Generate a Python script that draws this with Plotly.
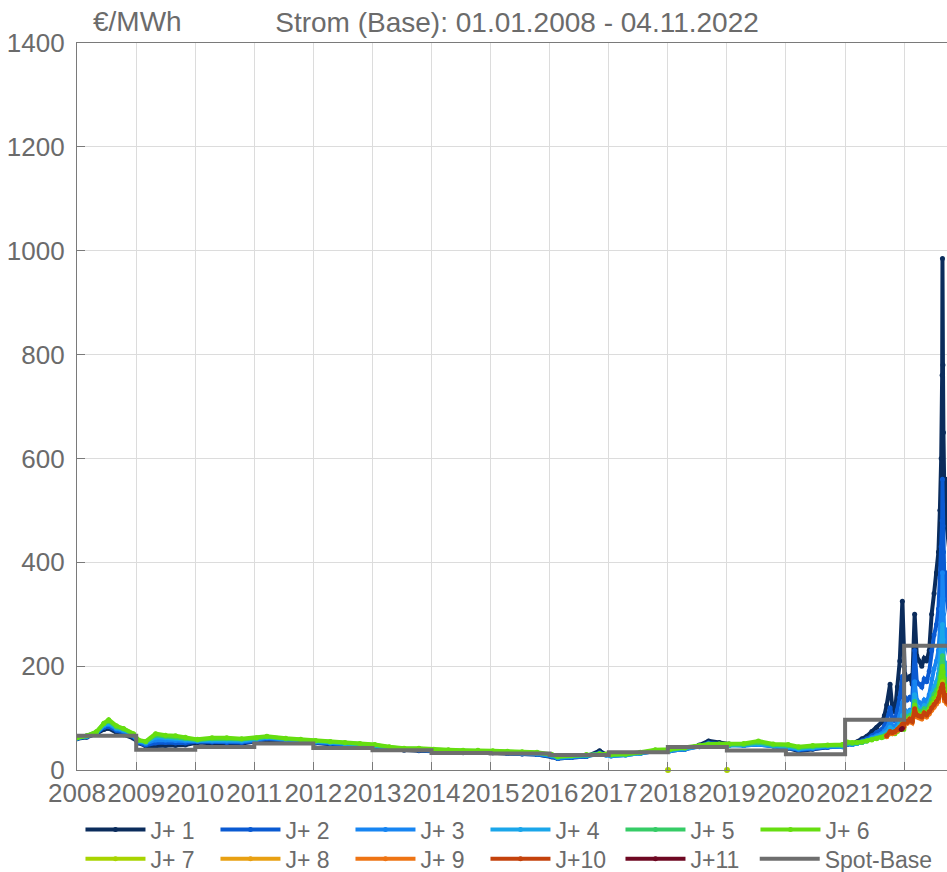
import plotly.graph_objects as go

# ---------------- data ----------------
dates_a = ["2008-01-02","2008-03-01","2008-05-01","2008-06-15","2008-07-15","2008-09-01","2008-10-15","2008-12-15",
           "2009-01-15","2009-03-01","2009-05-01","2009-07-01","2009-09-01","2009-11-01",
           "2010-01-15","2010-04-15","2010-07-15","2010-10-15",
           "2011-01-15","2011-03-20","2011-07-15","2011-10-15",
           "2012-01-15","2012-04-15","2012-07-15","2012-10-15",
           "2013-01-15","2013-04-15","2013-07-15","2013-10-15",
           "2014-01-15","2014-04-15","2014-07-15","2014-10-15",
           "2015-01-15","2015-04-15","2015-07-15","2015-10-15",
           "2016-01-15","2016-02-20","2016-05-15","2016-08-15","2016-11-05","2016-12-15",
           "2017-01-15","2017-04-15","2017-07-15","2017-10-15",
           "2018-01-15","2018-04-15","2018-07-15","2018-09-10","2018-11-15",
           "2019-01-15","2019-04-15","2019-07-15","2019-10-15",
           "2020-01-15","2020-03-20","2020-06-15","2020-09-15","2020-12-15"]

dates_b = ["2021-01-15","2021-02-15","2021-03-15","2021-04-15","2021-05-15","2021-06-15","2021-07-15","2021-08-15",
           "2021-09-01","2021-09-15","2021-10-06","2021-10-20","2021-11-05","2021-11-20","2021-12-05","2021-12-21","2021-12-30",
           "2022-01-05","2022-01-20","2022-02-05","2022-02-20","2022-03-07","2022-03-20","2022-04-05","2022-04-20",
           "2022-05-05","2022-05-20","2022-06-05","2022-06-20","2022-07-05","2022-07-20","2022-08-01","2022-08-10",
           "2022-08-18","2022-08-24","2022-08-26","2022-08-29","2022-09-01","2022-09-07","2022-09-14","2022-09-21",
           "2022-10-05","2022-10-20","2022-11-04"]

# long-dated products (J+7 .. J+10) start in September 2021
dates_c = dates_b[9:]

j1_a = [60,63,70,78,80,72,68,61, 52,46,46,47,47,48, 53,52,50,51, 54,58,56,54, 52,50,48,46, 44,40,38,37,
        36,34,33,34, 33,32,31,30, 25,22,24,26,37,30, 28,30,33,37, 37,40,48,56,53, 50,48,50,46, 42,36,40,44,46]
j2_a = [61,64,71,82,84,76,72,64, 53,48,52,53,52,52, 55,54,53,53, 56,60,57,55, 53,51,49,47, 45,41,39,38,
        37,35,34,34, 33,32,31,30, 26,22,24,26,33,29, 27,29,32,36, 37,40,46,52,50, 48,47,49,46, 43,38,41,44,45]
j3_a = [61,65,72,85,88,79,75,66, 55,51,58,58,57,56, 56,56,56,55, 58,62,58,56, 54,52,50,48, 46,42,40,39,
        37,36,35,35, 34,33,32,31, 27,23,25,27,31,29, 27,29,32,36, 37,40,45,50,48, 47,47,49,46, 44,40,42,45,45]
j4_a = [62,65,72,87,91,81,77,68, 56,53,63,62,61,59, 57,58,58,57, 60,63,59,57, 55,53,51,49, 47,43,40,40,
        38,37,36,36, 35,34,33,32, 28,24,26,28,31,29, 28,29,32,37, 38,41,45,49,48, 47,48,50,47, 45,41,43,46,46]
j5_a = [62,66,73,89,94,83,79,69, 57,54,67,65,64,61, 58,60,60,59, 61,64,60,58, 56,54,52,50, 48,44,41,41,
        39,38,37,37, 36,35,34,33, 29,25,27,29,31,30, 29,30,33,38, 39,42,46,49,49, 48,49,53,48, 47,43,45,47,47]
j6_a = [62,66,74,90,97,85,80,70, 58,55,70,67,66,63, 59,62,62,60, 62,65,61,59, 57,55,53,51, 49,45,42,42,
        40,39,38,38, 37,36,35,34, 30,26,28,30,32,31, 30,31,34,39, 40,43,47,50,50, 50,51,56,50, 49,45,47,48,49]

j1_b = [50,50,54,60,65,74,82,92,105,125,165,120,112,160,210,325,200,
        185,175,180,165,300,220,210,200,215,210,230,300,340,380,420,500,600,760,985,780,650,520,560,470,430,400,380]
j2_b = [49,49,52,56,60,66,72,78,85,95,120,100,95,115,140,180,130,
        140,135,140,135,230,170,165,160,175,170,190,230,260,280,310,370,430,480,560,470,420,350,380,330,300,280,270]
j3_b = [50,49,51,54,57,62,66,70,75,80,95,85,82,92,105,130,100,
        115,110,115,110,170,135,130,125,135,130,145,175,195,210,230,270,310,330,380,330,300,250,270,240,220,210,200]
j4_b = [51,50,51,53,56,60,63,66,70,73,82,78,76,82,90,105,88,
        112,106,112,106,145,122,118,116,124,120,130,148,160,170,185,212,240,252,280,252,232,192,206,186,172,166,160]
j5_b = [52,51,52,53,56,59,61,63,66,68,74,72,72,76,82,92,82,
        105,100,105,100,132,116,113,111,118,115,124,136,146,154,162,180,196,205,220,205,190,166,175,160,150,145,140]
j6_b = [54,53,53,54,56,58,60,62,64,66,70,70,70,74,78,85,78,
        100,96,100,96,125,110,108,106,112,110,118,128,138,145,152,168,180,188,200,188,175,155,162,150,142,138,134]
j7_c = [66,73,72,74,78,83,89,85,
        96,93,99,95,117,107,105,103,110,107,113,121,128,134,140,153,161,166,170,162,153,140,146,134,128,124,120]
j8_c = [65,72,71,73,77,81,87,83,
        94,91,97,93,114,104,102,100,107,104,110,117,123,129,135,147,155,159,162,155,148,136,141,130,124,120,117]
j9_c = [64,71,70,72,76,80,86,82,
        92,90,95,91,112,102,100,98,105,102,108,115,121,127,132,144,152,156,160,152,145,133,139,128,122,118,115]
j10_c = [66,74,72,74,78,82,88,84,
         95,92,98,94,118,106,104,102,110,106,112,120,126,132,138,150,158,162,165,158,150,138,144,132,126,122,118]

j7_zero_dates = ["2018-01-02", "2019-01-02"]
j7_zero_vals = [0, 0]

j11_dates = ["2021-12-14", "2021-12-21"]
j11_vals = [78, 80]

spot_dates = ["2008-01-01","2009-01-01","2010-01-01","2011-01-01","2012-01-01","2013-01-01","2014-01-01",
              "2015-01-01","2016-01-01","2017-01-01","2018-01-01","2019-01-01","2020-01-01","2021-01-01",
              "2022-01-01","2022-11-04"]
spot_vals = [65.8,38.9,44.5,51.1,42.6,37.8,32.8,31.6,29.0,34.2,44.5,37.7,30.5,96.9,239.5,239.5]

names = ["J+ 1","J+ 2","J+ 3","J+ 4","J+ 5","J+ 6","J+ 7","J+ 8","J+ 9","J+10","J+11","Spot-Base"]
colors = ["#0b2c5c","#0a5ad2","#1785f2","#1aa6ea","#35cc66","#66de10","#a8d400","#e8a012","#ee7414","#c4420c","#6e0822","#6e6e6e"]

xticks = ["2008","2009","2010","2011","2012","2013","2014","2015","2016","2017","2018","2019","2020","2021","2022"]
yticks = [0,200,400,600,800,1000,1200,1400]

TXT = "#6b6b6b"
FONT = "Liberation Sans, Arial, Helvetica, sans-serif"

# ---------------- figure ----------------
fig = go.Figure()

series = [
    (dates_a + dates_b, j1_a + j1_b),
    (dates_a + dates_b, j2_a + j2_b),
    (dates_a + dates_b, j3_a + j3_b),
    (dates_a + dates_b, j4_a + j4_b),
    (dates_a + dates_b, j5_a + j5_b),
    (dates_a + dates_b, j6_a + j6_b),
    (dates_c, j7_c),
    (dates_c, j8_c),
    (dates_c, j9_c),
    (dates_c, j10_c),
    (j11_dates, j11_vals),
]

for i, (xs, ys) in enumerate(series):
    lg = "legend" if i < 6 else "legend2"
    fig.add_trace(go.Scatter(
        x=xs, y=ys, name=names[i], mode="lines+markers",
        line=dict(color=colors[i], width=4),
        marker=dict(color=colors[i], size=5),
        legendgroup=names[i], legend=lg,
    ))
    if i == 6:
        fig.add_trace(go.Scatter(
            x=j7_zero_dates, y=j7_zero_vals, mode="markers", showlegend=False,
            marker=dict(color=colors[6], size=6), legendgroup=names[6], legend=lg,
            cliponaxis=False,
        ))

fig.add_trace(go.Scatter(
    x=spot_dates, y=spot_vals, name=names[11], mode="lines",
    line=dict(color=colors[11], width=4, shape="hv"), legend="legend3",
))

leg_common = dict(orientation="h", xanchor="left", yanchor="top",
                  itemwidth=60, font=dict(size=23, color=TXT, family=FONT),
                  tracegroupgap=0, bgcolor="rgba(0,0,0,0)")

fig.update_layout(
    width=947, height=872,
    margin=dict(l=77, r=0, t=43, b=102, autoexpand=False),
    paper_bgcolor="white", plot_bgcolor="white",
    font=dict(family=FONT, size=26, color=TXT),
    title=dict(text="Strom (Base): 01.01.2008 - 04.11.2022", x=0.546, xanchor="center",
               y=0.975, yanchor="middle", font=dict(size=28, color=TXT, family=FONT)),
    showlegend=True,
    legend=dict(x=0.004, y=-0.0525, entrywidth=60, entrywidthmode="pixels", **leg_common),
    legend2=dict(x=0.004, y=-0.0925, entrywidth=60, entrywidthmode="pixels", **leg_common),
    legend3=dict(x=0.779, y=-0.0925, **leg_common),
    annotations=[dict(text="€/MWh", xref="paper", yref="paper", x=0.016, xanchor="left",
                      y=1.0, yanchor="bottom", yshift=4, showarrow=False,
                      font=dict(size=28, color=TXT, family=FONT))],
)

fig.update_xaxes(
    type="date", range=["2008-01-01", "2022-09-23"],
    tickmode="array", tickvals=[y + "-01-01" for y in xticks], ticktext=xticks,
    tickangle=0, automargin=False,
    showgrid=True, gridcolor="#dcdcdc", gridwidth=1,
    showline=True, linecolor="#7a7a7a", linewidth=1.2, mirror=True,
    ticks="inside", ticklen=8, tickcolor="#7a7a7a",
    tickfont=dict(size=26, color=TXT, family=FONT), zeroline=False,
)
fig.update_yaxes(
    range=[0, 1400], tickmode="array", tickvals=yticks, ticktext=[str(v) for v in yticks],
    automargin=False,
    showgrid=True, gridcolor="#dcdcdc", gridwidth=1,
    showline=True, linecolor="#7a7a7a", linewidth=1.2, mirror=False,
    ticks="inside", ticklen=8, tickcolor="#7a7a7a",
    tickfont=dict(size=26, color=TXT, family=FONT), zeroline=False,
    ticklabelstandoff=6,
)

# remove the browser's default 8px page margin so the figure fills the window exactly
fig.write_html("out.html",
               config={"displayModeBar": False},
               post_script="document.body.style.margin='0px';"
                           "document.documentElement.style.overflow='hidden';")
